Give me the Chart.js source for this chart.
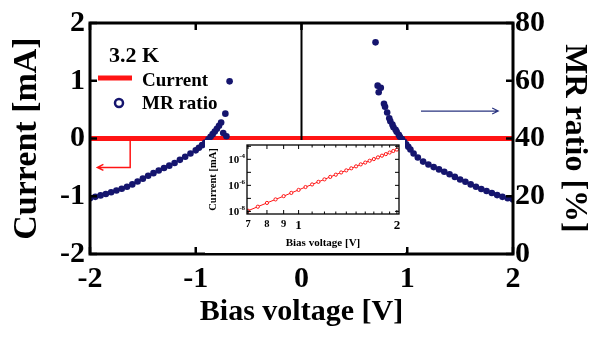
<!DOCTYPE html>
<html>
<head>
<meta charset="utf-8">
<script src="https://cdn.jsdelivr.net/npm/chart.js@4.4.0/dist/chart.umd.min.js"></script>
<style>
  body { margin: 0; background: #fff; }
  #wrap { position: relative; width: 599px; height: 339px; }
  #main { position: absolute; left: 0; top: 0; }
  #inset { position: absolute; left: 205px; top: 140px; background: #fff; }
</style>
</head>
<body>
<div id="wrap">
  <canvas id="main" width="599" height="339"></canvas>
  <canvas id="inset" width="200" height="113"></canvas>
</div>
<script>
// MR ratio [%] vs bias voltage [V]
const mrVoltage = [
  -2.00, -1.95, -1.90, -1.85, -1.80, -1.75, -1.70, -1.65, -1.60, -1.55,
  -1.50, -1.45, -1.40, -1.35, -1.30, -1.25, -1.20, -1.15, -1.10, -1.05,
  -1.00, -0.97, -0.94, -0.91, -0.88, -0.86, -0.84, -0.82, -0.80, -0.78,
  -0.76, -0.74, -0.72, -0.71, -0.68,
  0.70, 0.72, 0.73, 0.75, 0.78, 0.79, 0.81, 0.83, 0.84, 0.86,
  0.87, 0.89, 0.90, 0.92, 0.93, 0.95, 0.97, 0.99, 1.01, 1.03,
  1.06, 1.10, 1.15, 1.20, 1.25, 1.30, 1.35, 1.40, 1.45, 1.50,
  1.55, 1.60, 1.65, 1.70, 1.75, 1.80, 1.85, 1.90, 1.95, 2.00
];
const mrRatio = [
  19.3, 19.8, 20.3, 20.8, 21.4, 22.0, 22.6, 23.3, 24.1, 25.1,
  26.1, 27.1, 28.0, 28.9, 29.8, 30.6, 31.5, 32.6, 33.7, 34.8,
  35.9, 36.8, 37.7, 38.6, 39.7, 40.6, 41.5, 42.4, 43.4, 44.4,
  45.5, 41.9, 48.6, 40.8, 59.8,
  73.3, 58.3, 56.0, 57.6, 52.0, 51.0, 49.0, 47.0, 46.0, 44.8,
  43.9, 43.0, 42.3, 41.3, 40.6, 39.8, 38.9, 38.0, 37.1, 36.2,
  34.8, 33.4, 32.0, 31.0, 30.1, 29.3, 28.5, 27.6, 26.7, 25.8,
  25.0, 24.1, 23.3, 22.5, 21.8, 21.1, 20.4, 19.8, 19.3, 18.9
];

// current [mA] on the linear scale (tiny, so it sits on 0)
const currentVoltage = [-2, -1, 0, 1, 2];
const currentMilliamp = [-0.00056, -0.0000004, 0, 0.0000004, 0.00056];

// inset: current on log-log axes
const insetVoltage = [
  0.70, 0.75, 0.80, 0.85, 0.90, 0.95, 1.00, 1.05, 1.10, 1.15,
  1.20, 1.25, 1.30, 1.35, 1.40, 1.45, 1.50, 1.55, 1.60, 1.65,
  1.70, 1.75, 1.80, 1.85, 1.90, 1.95, 2.00
];
const insetLogCurrent = [
  -7.95, -7.64, -7.35, -7.08, -6.83, -6.58, -6.35, -6.13, -5.93, -5.73,
  -5.54, -5.35, -5.18, -5.01, -4.85, -4.69, -4.54, -4.39, -4.25, -4.11,
  -3.98, -3.85, -3.72, -3.60, -3.48, -3.36, -3.25
];

const voltageTicks = [-2, -1, 0, 1, 2];
const currentTicks = [-2, -1, 0, 1, 2];
const mrTicks = [0, 20, 40, 60, 80];
const insetXTicks = [0.7, 0.8, 0.9, 1, 1.1, 1.2, 1.3, 1.4, 1.5, 1.6, 1.7, 1.8, 1.9, 2];
const insetXLabels = {0.7: '7', 0.8: '8', 0.9: '9', 1: '1', 2: '2'};
const insetYTicks = [1e-8, 1e-7, 1e-6, 1e-5, 1e-4, 1e-3];
const insetYLabels = [[1e-8, '-8'], [1e-6, '-6'], [1e-4, '-4']];

const SERIF = "'Liberation Serif', 'Times New Roman', serif";
const RED = '#ff1414';
const NAVY = '#15156e';

Chart.defaults.font.family = SERIF;
Chart.defaults.color = '#000';

function line(ctx, x1, y1, x2, y2) {
  ctx.beginPath();
  ctx.moveTo(x1, y1);
  ctx.lineTo(x2, y2);
  ctx.stroke();
}

// frame, inward ticks, zero line, arrows and the legend
const mainDecor = {
  id: 'mainDecor',
  afterDatasetsDraw(chart) {
    const {ctx, chartArea: a, scales} = chart;
    const xs = scales.x, ys = scales.y, ms = scales.y1;
    ctx.save();
    ctx.strokeStyle = '#000';
    ctx.lineWidth = 2;
    const x0 = xs.getPixelForValue(0);
    line(ctx, x0, a.top, x0, a.bottom);

    ctx.lineWidth = 3;
    ctx.strokeRect(a.left, a.top, a.right - a.left, a.bottom - a.top);
    ctx.lineWidth = 2.5;
    voltageTicks.forEach(v => {
      const px = xs.getPixelForValue(v);
      line(ctx, px, a.bottom, px, a.bottom - 7);
      line(ctx, px, a.top, px, a.top + 7);
    });
    currentTicks.forEach(v => {
      const py = ys.getPixelForValue(v);
      line(ctx, a.left, py, a.left + 7, py);
    });
    mrTicks.forEach(v => {
      const py = ms.getPixelForValue(v);
      line(ctx, a.right, py, a.right - 7, py);
    });

    // red arrow -> left axis
    ctx.strokeStyle = RED;
    ctx.lineWidth = 1.5;
    const rx = xs.getPixelForValue(-1.62);
    const ry = ys.getPixelForValue(-0.5);
    const rTip = xs.getPixelForValue(-1.93);
    ctx.beginPath();
    ctx.moveTo(rx, ys.getPixelForValue(0));
    ctx.lineTo(rx, ry);
    ctx.lineTo(rTip, ry);
    ctx.moveTo(rTip + 6, ry - 3);
    ctx.lineTo(rTip, ry);
    ctx.lineTo(rTip + 6, ry + 3);
    ctx.stroke();

    // blue arrow -> right axis
    ctx.strokeStyle = '#2a3580';
    ctx.lineWidth = 1.2;
    const by = ms.getPixelForValue(49.5);
    const bx1 = xs.getPixelForValue(1.13);
    const bx2 = xs.getPixelForValue(1.86);
    ctx.beginPath();
    ctx.moveTo(bx1, by);
    ctx.lineTo(bx2, by);
    ctx.moveTo(bx2 - 6, by - 3);
    ctx.lineTo(bx2, by);
    ctx.lineTo(bx2 - 6, by + 3);
    ctx.stroke();

    // legend
    ctx.fillStyle = '#000';
    ctx.textBaseline = 'alphabetic';
    ctx.textAlign = 'left';
    ctx.font = 'bold 22px ' + SERIF;
    ctx.fillText('3.2 K', 109, 62);
    ctx.strokeStyle = RED;
    ctx.lineWidth = 5;
    line(ctx, 98, 78, 132, 78);
    ctx.font = 'bold 19px ' + SERIF;
    ctx.fillText('Current', 142, 86);
    ctx.strokeStyle = NAVY;
    ctx.lineWidth = 2.5;
    ctx.beginPath();
    ctx.arc(119, 103, 4, 0, Math.PI * 2);
    ctx.stroke();
    ctx.fillText('MR ratio', 142, 109);
    ctx.restore();
  }
};

const mainChart = new Chart(document.getElementById('main'), {
  type: 'scatter',
  data: {
    datasets: [
      {
        label: 'MR ratio',
        data: mrVoltage.map((v, i) => ({x: v, y: mrRatio[i]})),
        yAxisID: 'y1',
        pointRadius: 3.3,
        pointBackgroundColor: NAVY,
        pointBorderWidth: 0,
        showLine: false,
        order: 0
      },
      {
        label: 'Current',
        data: currentVoltage.map((v, i) => ({x: v, y: currentMilliamp[i]})),
        yAxisID: 'y',
        showLine: true,
        borderColor: RED,
        borderWidth: 5,
        pointRadius: 0,
        order: 1
      }
    ]
  },
  options: {
    responsive: false,
    animation: false,
    layout: {padding: {top: 13, left: 0, right: 0, bottom: 0}},
    plugins: {legend: {display: false}, tooltip: {enabled: false}},
    scales: {
      x: {
        type: 'linear', min: -2, max: 2,
        afterBuildTicks: s => { s.ticks = voltageTicks.map(v => ({value: v})); },
        afterFit: s => { s.height = 85; },
        grid: {display: false, drawTicks: false},
        border: {display: false},
        ticks: {padding: 7, font: {size: 30, weight: 'bold'}, maxRotation: 0},
        title: {display: true, text: 'Bias voltage [V]', font: {size: 30, weight: 'bold'}, padding: {top: 0, bottom: 9}}
      },
      y: {
        position: 'left', min: -2, max: 2,
        afterBuildTicks: s => { s.ticks = currentTicks.map(v => ({value: v})); },
        afterFit: s => { s.width = 90; },
        grid: {display: false, drawTicks: false},
        border: {display: false},
        ticks: {padding: 5, font: {size: 30, weight: 'bold'}},
        title: {display: true, text: 'Current [mA]', font: {size: 34, weight: 'bold'}, padding: {top: 7, bottom: 0}}
      },
      y1: {
        position: 'right', min: 0, max: 80,
        afterBuildTicks: s => { s.ticks = mrTicks.map(v => ({value: v})); },
        afterFit: s => { s.width = 86; },
        grid: {display: false, drawTicks: false},
        border: {display: false},
        ticks: {padding: 2, font: {size: 30, weight: 'bold'}},
        title: {display: true, text: 'MR ratio [%]', font: {size: 32, weight: 'bold'}, padding: {top: 6, bottom: 0}}
      }
    }
  },
  plugins: [mainDecor]
});

// inset frame, inward ticks and the 10^n labels
const insetDecor = {
  id: 'insetDecor',
  afterDatasetsDraw(chart) {
    const {ctx, chartArea: a, scales} = chart;
    const xs = scales.x, ys = scales.y;
    ctx.save();
    ctx.strokeStyle = '#000';
    ctx.lineWidth = 1.3;
    ctx.strokeRect(a.left, a.top, a.right - a.left, a.bottom - a.top);
    ctx.lineWidth = 1;
    insetXTicks.forEach(v => {
      const px = xs.getPixelForValue(v);
      const len = insetXLabels[v] ? 4 : 2.5;
      line(ctx, px, a.bottom, px, a.bottom - len);
      line(ctx, px, a.top, px, a.top + len);
    });
    insetYTicks.forEach(v => {
      const py = ys.getPixelForValue(v);
      line(ctx, a.left, py, a.left + 4, py);
      line(ctx, a.right, py, a.right - 4, py);
    });
    ctx.fillStyle = '#000';
    ctx.textAlign = 'right';
    ctx.textBaseline = 'alphabetic';
    insetYLabels.forEach(([v, exp]) => {
      const py = ys.getPixelForValue(v);
      ctx.font = 'bold 7px ' + SERIF;
      const ew = ctx.measureText(exp).width;
      ctx.fillText(exp, a.left - 2, py - 1);
      ctx.font = 'bold 11px ' + SERIF;
      ctx.fillText('10', a.left - 2 - ew, py + 4);
    });
    ctx.restore();
  }
};

const insetChart = new Chart(document.getElementById('inset'), {
  type: 'scatter',
  data: {
    datasets: [{
      label: 'Current',
      data: insetVoltage.map((v, i) => ({x: v, y: Math.pow(10, insetLogCurrent[i])})),
      showLine: true,
      borderColor: RED,
      borderWidth: 1,
      pointRadius: 1.6,
      pointBorderColor: RED,
      pointBorderWidth: 1,
      pointBackgroundColor: '#fff'
    }]
  },
  options: {
    responsive: false,
    animation: false,
    layout: {padding: {top: 4, left: 0, right: 6, bottom: 0}},
    plugins: {legend: {display: false}, tooltip: {enabled: false}},
    scales: {
      x: {
        type: 'logarithmic', min: 0.695, max: 2.03,
        afterBuildTicks: s => { s.ticks = insetXTicks.map(v => ({value: v})); },
        afterFit: s => { s.height = 39; },
        grid: {display: false, drawTicks: false},
        border: {display: false},
        ticks: {
          autoSkip: false, maxRotation: 0, padding: 4,
          callback: v => insetXLabels[Math.round(v * 10) / 10] || '',
          font: c => ({size: c.tick && c.tick.value >= 1 ? 13 : 10.5, weight: 'bold'})
        },
        title: {display: true, text: 'Bias voltage [V]', font: {size: 11, weight: 'bold'}, padding: {top: 0, bottom: 3.4}}
      },
      y: {
        type: 'logarithmic', min: 6.3e-9, max: 1.26e-3,
        afterFit: s => { s.width = 42; },
        grid: {display: false, drawTicks: false},
        border: {display: false},
        ticks: {display: false},
        title: {display: true, text: 'Current [mA]', font: {size: 10.5, weight: 'bold'}, padding: {top: 1.7, bottom: 0}}
      }
    }
  },
  plugins: [insetDecor]
});
</script>
</body>
</html>
